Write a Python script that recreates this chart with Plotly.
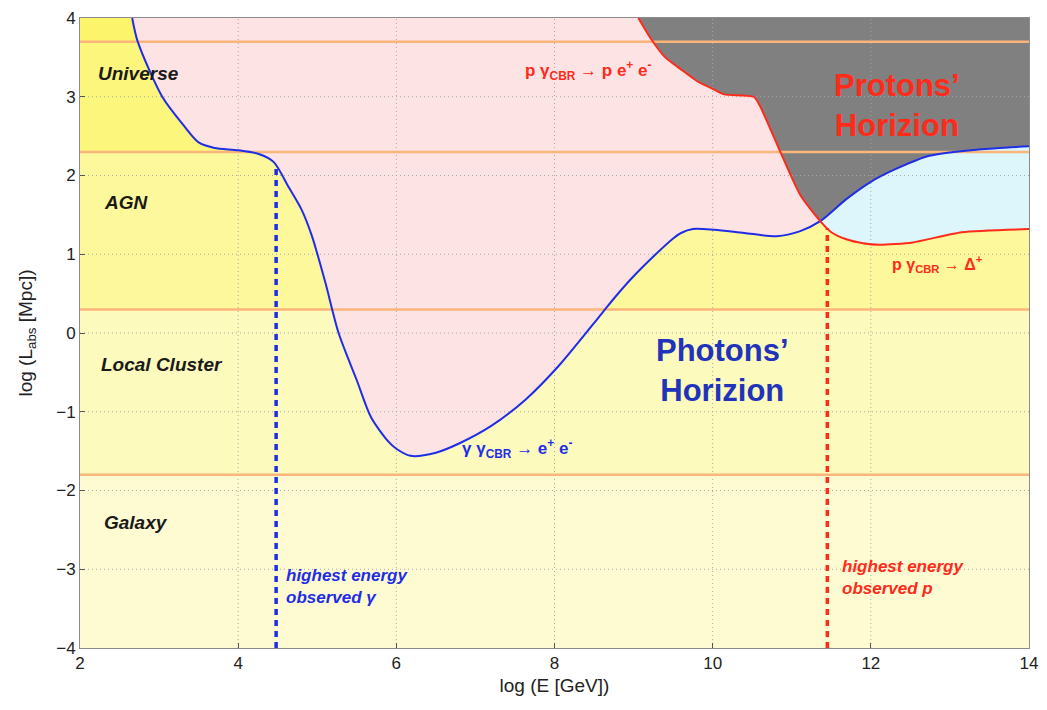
import plotly.graph_objects as go

# Photon horizon: absorption length of gamma rays on the CMB/IR backgrounds
photon_x = [2.66, 2.73, 3.04, 3.3, 3.5, 3.7, 4.0, 4.27, 4.45, 4.64, 4.8, 4.93,
            5.1, 5.27, 5.5, 5.68, 5.9, 6.0, 6.18, 6.5, 6.8, 7.2, 7.64, 8.06,
            8.6, 8.77, 9.0, 9.27, 9.5, 9.6, 9.75, 10.02, 10.4, 10.81, 11.1,
            11.36, 11.69, 12.0, 12.31, 12.74, 13.36, 14.0]
photon_y = [4.0, 3.7, 3.0, 2.65, 2.42, 2.35, 2.32, 2.27, 2.17, 1.85, 1.57, 1.24,
            0.65, 0.0, -0.6, -1.07, -1.38, -1.47, -1.56, -1.52, -1.4, -1.18,
            -0.84, -0.41, 0.25, 0.46, 0.72, 0.99, 1.2, 1.27, 1.32, 1.31, 1.27,
            1.23, 1.29, 1.42, 1.7, 1.92, 2.08, 2.25, 2.33, 2.37]

# Proton horizon: pair production and photo-pion (Delta) losses
proton_x = [9.06, 9.23, 9.4, 9.61, 9.8, 10.02, 10.15, 10.52, 10.6, 10.86,
            11.11, 11.36, 11.5, 11.69, 11.9, 12.11, 12.53, 13.15, 14.0]
proton_y = [4.0, 3.72, 3.5, 3.34, 3.2, 3.09, 3.03, 3.0, 2.88, 2.29, 1.75, 1.42,
            1.28, 1.19, 1.14, 1.12, 1.15, 1.28, 1.32]

# Crossing point of the two horizons (shared by both lists)
cross_x = 11.36

# Distance scales (band boundaries and labels)
band_edges = [-4.0, -1.8, 0.3, 2.3, 3.7, 4.0]
band_colors = ["#fefbd3", "#fdfabd", "#fdf89c", "#fcf67c", "#fcf46a"]
scale_names = ["Universe", "AGN", "Local Cluster", "Galaxy"]
scale_label_y = [3.3, 1.66, -0.4, -2.4]
scale_label_x = [2.2, 2.28, 2.24, 2.28]

# Highest observed energies
gamma_max_E = 4.48
proton_max_E = 11.45

x_ticks = [2, 4, 6, 8, 10, 12, 14]
y_ticks = [-4, -3, -2, -1, 0, 1, 2, 3, 4]
X0, X1, Y0, Y1 = 2, 14, -4, 4

BLUE = "#1f2ee6"
RED = "#ff2a1a"
ORANGE = "#fbb47a"

fig = go.Figure()

# distance-scale background bands
for lo, hi, col in zip(band_edges[:-1], band_edges[1:], band_colors):
    fig.add_shape(type="rect", xref="x", yref="y", x0=X0, x1=X1, y0=lo, y1=hi,
                  fillcolor=col, line_width=0, layer="below")

ic_p = photon_x.index(cross_x)
ic_r = proton_x.index(cross_x)

# pink: above photon horizon, below proton horizon
px_ = photon_x[:ic_p + 1] + proton_x[ic_r::-1] + [photon_x[0]]
py_ = photon_y[:ic_p + 1] + proton_y[ic_r::-1] + [Y1]
fig.add_trace(go.Scatter(x=px_, y=py_, fill="toself", fillcolor="#fde3e4",
                         mode="none", hoverinfo="skip"))

# grey: beyond both horizons
gx = proton_x[:ic_r + 1] + photon_x[ic_p + 1:] + [X1, proton_x[0]]
gy = proton_y[:ic_r + 1] + photon_y[ic_p + 1:] + [Y1, Y1]
fig.add_trace(go.Scatter(x=gx, y=gy, fill="toself", fillcolor="#808080",
                         mode="none", hoverinfo="skip"))

# light blue: between proton horizon (below) and photon horizon (above)
bx = photon_x[ic_p:] + proton_x[:ic_r - 1:-1]
by = photon_y[ic_p:] + proton_y[:ic_r - 1:-1]
fig.add_trace(go.Scatter(x=bx, y=by, fill="toself", fillcolor="#dcf6fb",
                         mode="none", hoverinfo="skip"))

# dotted grid drawn over the filled regions
gxs, gys = [], []
for t in x_ticks[1:-1]:
    gxs += [t, t, None]
    gys += [Y0, Y1, None]
for t in y_ticks[1:-1]:
    gxs += [X0, X1, None]
    gys += [t, t, None]
fig.add_trace(go.Scatter(x=gxs, y=gys, mode="lines",
                         line=dict(color="#a8a8a8", width=1, dash="1px,3px"),
                         hoverinfo="skip"))

# band boundary lines
for e in band_edges[1:-1]:
    fig.add_trace(go.Scatter(x=[X0, X1], y=[e, e], mode="lines",
                             line=dict(color=ORANGE, width=2.5), hoverinfo="skip"))

# horizon curves
fig.add_trace(go.Scatter(x=photon_x, y=photon_y, mode="lines",
                         line=dict(color=BLUE, width=2, shape="spline", smoothing=0.8)))
fig.add_trace(go.Scatter(x=proton_x, y=proton_y, mode="lines",
                         line=dict(color=RED, width=2, shape="spline", smoothing=0.6)))

# highest observed energies
def value_at(xs, ys, x):
    for i in range(len(xs) - 1):
        if xs[i] <= x <= xs[i + 1]:
            f = (x - xs[i]) / (xs[i + 1] - xs[i])
            return ys[i] + f * (ys[i + 1] - ys[i])
    return ys[-1]

fig.add_trace(go.Scatter(x=[gamma_max_E, gamma_max_E],
                         y=[Y0, value_at(photon_x, photon_y, gamma_max_E)],
                         mode="lines", line=dict(color=BLUE, width=3.5, dash="6px,5px")))
fig.add_trace(go.Scatter(x=[proton_max_E, proton_max_E],
                         y=[Y0, value_at(proton_x, proton_y, proton_max_E)],
                         mode="lines", line=dict(color=RED, width=3.5, dash="6px,5px")))

FONT = "Liberation Sans, Arial, Helvetica, sans-serif"

def label(x, y, text, color, size, italic=False, bold=False, align="left", xanchor="left"):
    t = text
    if bold:
        t = "<b>" + t + "</b>"
    if italic:
        t = "<i>" + t + "</i>"
    fig.add_annotation(x=x, y=y, xref="x", yref="y", text=t, showarrow=False,
                       xanchor=xanchor, yanchor="middle", align=align,
                       font=dict(family=FONT, size=size, color=color))

for name, lx, ly in zip(scale_names, scale_label_x, scale_label_y):
    label(lx, ly, name, "#1a1a1a", 19, italic=True, bold=True)

label(7.6, 3.33, "p γ<sub>CBR</sub> → p e<sup>+</sup> e<sup>-</sup>", RED, 17, bold=True)
label(12.24, 0.87, "p γ<sub>CBR</sub> → Δ<sup>+</sup>", RED, 16, bold=True)
label(6.8, -1.47, "γ γ<sub>CBR</sub> → e<sup>+</sup> e<sup>-</sup>", BLUE, 17, bold=True)
label(12.33, 2.89, "Protons’<br>Horizion", "#ff2a1a", 31, bold=True, align="center", xanchor="center")
label(10.12, -0.48, "Photons’<br>Horizion", "#2233bb", 31, bold=True, align="center", xanchor="center")
label(4.58, -3.22, "highest energy<br>observed γ", BLUE, 17, italic=True, bold=True)
label(11.61, -3.1, "highest energy<br>observed p", RED, 17, italic=True, bold=True)

axis_common = dict(showgrid=False, zeroline=False, showline=True, linecolor="#8c8c8c",
                   linewidth=1, mirror=True, ticks="inside", ticklen=5,
                   tickcolor="#555555",
                   tickfont=dict(family=FONT, size=17, color="#222222"))

fig.update_xaxes(range=[X0, X1], tickvals=x_ticks,
                 title=dict(text="log (E [GeV])", standoff=6,
                            font=dict(family=FONT, size=19, color="#222222")),
                 **axis_common)
fig.update_yaxes(range=[Y0, Y1], tickvals=y_ticks,
                 title=dict(text="log (L<sub>abs</sub> [Mpc])", standoff=18,
                            font=dict(family=FONT, size=19, color="#222222")),
                 **axis_common)

fig.update_layout(width=1047, height=710, showlegend=False,
                  paper_bgcolor="white", plot_bgcolor="white",
                  margin=dict(l=80, r=9, t=15, b=62))

fig.write_html("out.html")
